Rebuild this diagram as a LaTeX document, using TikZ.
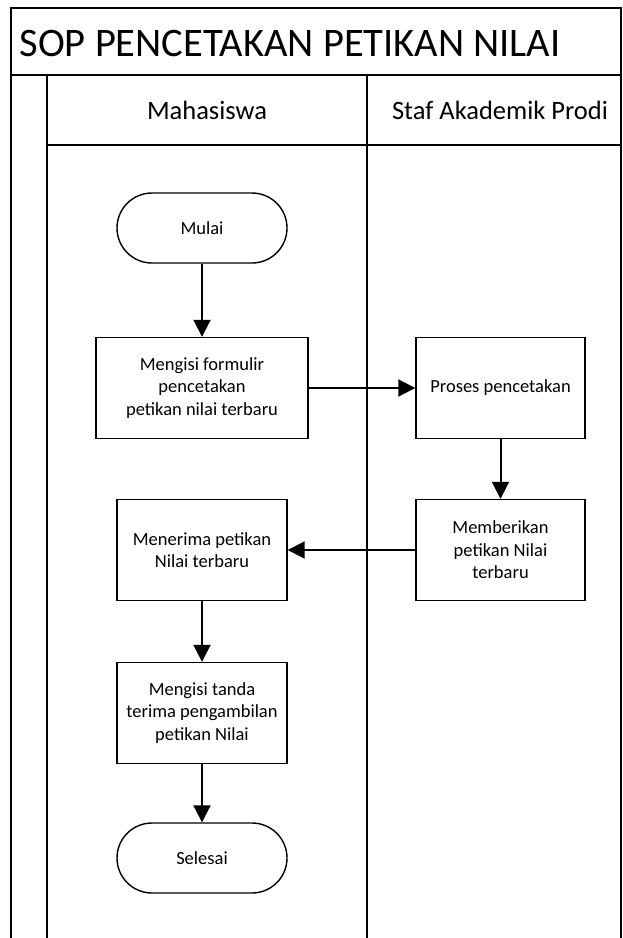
\documentclass[tikz,border=0pt]{standalone}
\usepackage{fontspec}
\setmainfont{Carlito}
\usetikzlibrary{arrows.meta}

\begin{document}
\begin{tikzpicture}[x=1pt,y=-1pt,
    lane/.style={line width=1.6pt},
    procbox/.style={draw,line width=1.4pt,align=center,minimum height=101pt,
        font=\fontsize{18.5}{22.5}\selectfont},
    termbox/.style={draw,line width=1.4pt,rounded corners=35pt,minimum width=170pt,
        minimum height=70pt,font=\fontsize{18.5}{22.5}\selectfont},
    flow/.style={line width=2pt,-{Triangle[length=17pt,width=17pt]}}]
        \useasboundingbox (0,0) rectangle (623,938);
        % frame
        \draw[lane] (11,938) -- (11,8) -- (621,8) -- (621,938);
        \draw[lane] (11,75) -- (621,75);
        \draw[lane] (47,75) -- (47,938);
        \draw[lane] (47,145) -- (621,145);
        \draw[lane] (367,75) -- (367,938);
        \node[anchor=west,font=\fontsize{40.5}{44}\selectfont] (judul) at (16,43) {SOP PENCETAKAN PETIKAN NILAI};
        \node[font=\fontsize{26.5}{30}\selectfont] (mhs) at (207,110) {Mahasiswa};
        \node[font=\fontsize{26.5}{30}\selectfont] (staf) at (500,110) {Staf Akademik Prodi};
        % mahasiswa
        \node[termbox] (mulai) at (202,228) {Mulai};
        \node[procbox,minimum width=212pt] (isi) at (202,388) {Mengisi formulir\\pencetakan\\petikan nilai terbaru};
        \node[procbox,minimum width=170pt] (terima) at (202,550) {Menerima petikan\\Nilai terbaru};
        \node[procbox,minimum width=170pt] (tanda) at (202,713) {Mengisi tanda\\terima pengambilan\\petikan Nilai};
        \node[termbox] (selesai) at (202,858) {Selesai};
        % staf
        \node[procbox,minimum width=169pt] (proses) at (500.5,388) {Proses pencetakan};
        \node[procbox,minimum width=169pt] (beri) at (500.5,550) {Memberikan\\petikan Nilai\\terbaru};
        % arrows
        \draw[flow] (mulai) -- (isi);
        \draw[flow] (isi) -- (proses);
        \draw[flow] (proses) -- (beri);
        \draw[flow] (beri) -- (terima);
        \draw[flow] (terima) -- (tanda);
        \draw[flow] (tanda) -- (selesai);
    \end{tikzpicture}
\end{document}
